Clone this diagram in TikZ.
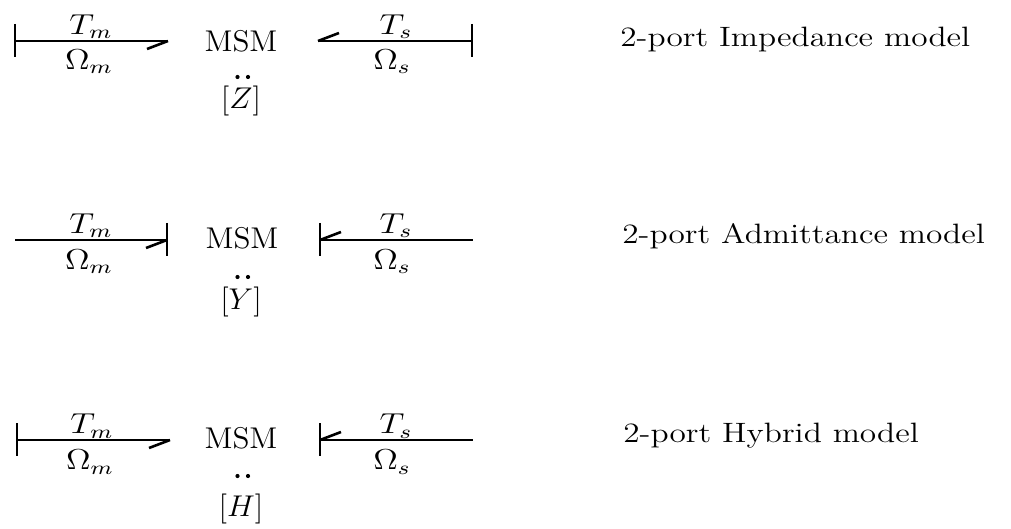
\documentclass[tikz,border=0pt]{standalone}
\usepackage{graphicx}
\newcommand\wx[1]{\scalebox{1.3}[1.25]{#1}}
\newcommand\wm[1]{\scalebox{1.45}[1.2]{#1}}
\newcommand\wc[1]{\scalebox{1.19}[1]{#1}}
\begin{document}
\begin{tikzpicture}[x=0.5pt,y=-0.5pt,
  bond/.style={line width=1.3pt},
  dot/.style={fill=black},
  lbl/.style={inner sep=0pt, font=\fontsize{12}{14}\selectfont},
  caption/.style={inner sep=0pt, anchor=base west, font=\fontsize{14}{17}\selectfont}]
\useasboundingbox (0,0) rectangle (1011,529);

% ---------- Row 1: Impedance ----------
\coordinate (l1a) at (15,41);  \coordinate (l1b) at (168,41);
\coordinate (r1a) at (318,41); \coordinate (r1b) at (472,41);
\draw[bond] (l1a) -- (l1b);
\draw[bond] (l1a) +(0,-17) -- +(0,16);
\draw[bond] (l1b) -- ++(-21,8);
\draw[bond] (r1a) -- (r1b);
\draw[bond] (r1b) +(0,-17) -- +(0,16);
\draw[bond] (r1a) -- ++(21,-8);
\node[lbl] (t1m) at (91,27) {\wm{$T_m$}};
\node[lbl] (o1m) at (89,62) {\wm{$\Omega_m$}};
\node[lbl] (t1s) at (396,27) {\wm{$T_s$}};
\node[lbl] (o1s) at (392,62) {\wm{$\Omega_s$}};
\node[lbl] (m1) at (241,41) {\wx{MSM}};
\fill[dot] (237.5,77) circle (2.1) (248,77) circle (2.1);
\node[lbl] (z1) at (241,101) {\wx{$[Z]$}};
\node[caption] (c1) at (620,47) {\wc{2-port Impedance model}};

% ---------- Row 2: Admittance ----------
\coordinate (l2a) at (15,240);  \coordinate (l2b) at (167,240);
\coordinate (r2a) at (320,240); \coordinate (r2b) at (473,240);
\draw[bond] (l2a) -- (l2b);
\draw[bond] (l2b) +(0,-17) -- +(0,16);
\draw[bond] (l2b) -- ++(-21,8);
\draw[bond] (r2a) -- (r2b);
\draw[bond] (r2a) +(0,-17) -- +(0,16);
\draw[bond] (r2a) -- ++(21,-8);
\node[lbl] (t2m) at (91,226) {\wm{$T_m$}};
\node[lbl] (o2m) at (89,262) {\wm{$\Omega_m$}};
\node[lbl] (t2s) at (396,226) {\wm{$T_s$}};
\node[lbl] (o2s) at (392,262) {\wm{$\Omega_s$}};
\node[lbl] (m2) at (242,238) {\wx{MSM}};
\fill[dot] (237.5,277) circle (2.1) (248,277) circle (2.1);
\node[lbl] (y2) at (241,302) {\wx{$[Y]$}};
\node[caption] (c2) at (622,243) {\wc{2-port Admittance model}};

% ---------- Row 3: Hybrid ----------
\coordinate (l3a) at (17,440);  \coordinate (l3b) at (170,440);
\coordinate (r3a) at (320,440); \coordinate (r3b) at (473,440);
\draw[bond] (l3a) -- (l3b);
\draw[bond] (l3a) +(0,-17) -- +(0,16);
\draw[bond] (l3b) -- ++(-21,8);
\draw[bond] (r3a) -- (r3b);
\draw[bond] (r3a) +(0,-17) -- +(0,16);
\draw[bond] (r3a) -- ++(21,-8);
\node[lbl] (t3m) at (92,426) {\wm{$T_m$}};
\node[lbl] (o3m) at (90,462) {\wm{$\Omega_m$}};
\node[lbl] (t3s) at (396,426) {\wm{$T_s$}};
\node[lbl] (o3s) at (392,462) {\wm{$\Omega_s$}};
\node[lbl] (m3) at (241,438) {\wx{MSM}};
\fill[dot] (237.5,476) circle (2.1) (248,476) circle (2.1);
\node[lbl] (h3) at (241,509) {\wx{$[H]$}};
\node[caption] (c3) at (623,442) {\wc{2-port Hybrid model}};
\end{tikzpicture}
\end{document}
